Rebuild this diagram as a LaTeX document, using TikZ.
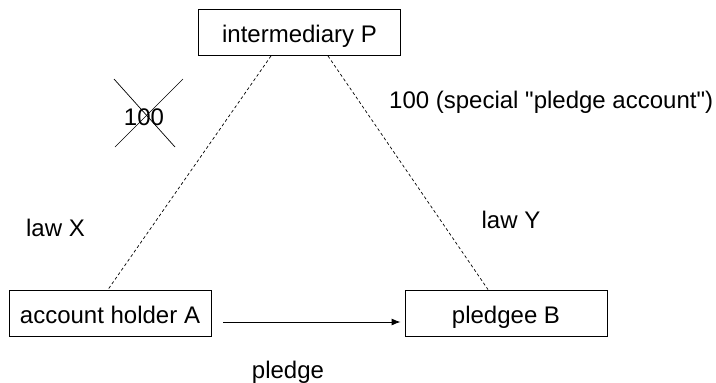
\documentclass[tikz,border=0pt]{standalone}
\usepackage{fontspec}
\setmainfont{Liberation Sans}
\usetikzlibrary{calc,arrows.meta}
\begin{document}
\begin{tikzpicture}[x=1pt,y=-1pt,
  every node/.style={font=\fontsize{24}{28}\selectfont},
  box/.style={draw,line width=0.9pt,minimum width=202pt,minimum height=46pt,inner sep=0pt,text height=20pt,text depth=0pt},
  dline/.style={line width=0.7pt,dash pattern=on 3pt off 2.5pt},
  arr/.style={line width=0.9pt,-{Latex[length=9pt,width=7pt]}},
  lbl/.style={inner sep=0pt}]
\useasboundingbox (0,0) rectangle (716,383);
\node[box] (P) at (299.5,32.5) {intermediary P};
\node[box] (A) at (110,313) {account holder A};
\node[box] (B) at (506,313) {pledgee B};
\draw[dline] ([xshift=-28.5pt]P.south) -- ([xshift=-2pt]A.north);
\draw[dline] ([xshift=28.5pt]P.south) -- ([xshift=-18pt]B.north);
\draw[arr] ([xshift=12pt,yshift=-9pt]A.east) -- ([xshift=-4pt,yshift=-9pt]B.west);
\node[lbl] (h) at (144,117) {100};
\draw[line width=0.7pt] ($(h.center)+(-30,-38)$) -- ($(h.center)+(31,30)$);
\draw[line width=0.7pt] ($(h.center)+(39,-38)$) -- ($(h.center)+(-29,30)$);
\node[lbl,anchor=west] (sp) at (389,102) {100 (special \textquotedbl pledge account\textquotedbl)};
\node[lbl,anchor=base] (lx) at (55.5,236) {law X};
\node[lbl,anchor=base] (ly) at (511,228) {law Y};
\node[lbl,anchor=base] (pl) at (288,378) {pledge};
\end{tikzpicture}
\end{document}
